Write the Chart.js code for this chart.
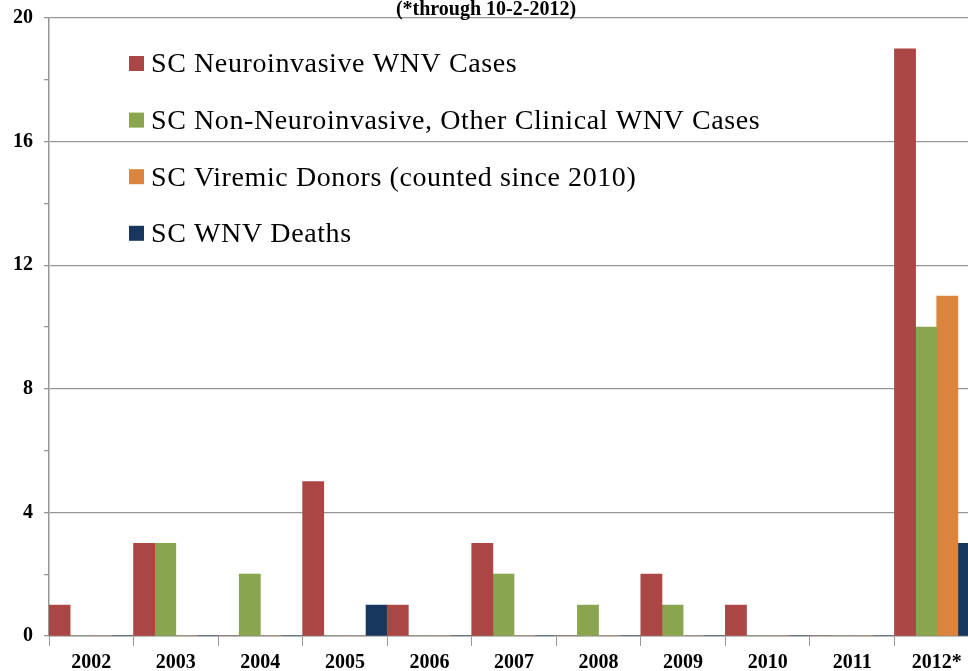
<!DOCTYPE html>
<html>
<head>
<meta charset="utf-8">
<script src="https://cdn.jsdelivr.net/npm/chart.js@4"></script>
<style>
    html, body { margin: 0; padding: 0; background: #fff; overflow: hidden; }
    #wrap { position: absolute; left: 0; top: 0; width: 990px; height: 671px; }
</style>
</head>
<body>
<div id="wrap"><canvas id="wnvChart" width="990" height="671"></canvas></div>
<script>
// values
const years = ["2002", "2003", "2004", "2005", "2006", "2007", "2008", "2009", "2010", "2011", "2012*"];
const neuroCases = [1, 3, 0, 5, 1, 3, 0, 2, 1, 0, 19];
const otherClinicalCases = [0, 3, 2, 0, 0, 2, 1, 1, 0, 0, 10];
const viremicDonors = [0, 0, 0, 0, 0, 0, 0, 0, 0, 0, 11];
const wnvDeaths = [0, 0, 0, 1, 0, 0, 0, 0, 0, 0, 3];
const seriesNames = [
    "SC Neuroinvasive WNV Cases",
    "SC Non-Neuroinvasive, Other Clinical WNV Cases",
    "SC Viremic Donors (counted since 2010)",
    "SC WNV Deaths"
];
const subTitle = "(*through 10-2-2012)";

const serif = "'Liberation Serif', 'DejaVu Serif', serif";
const gray = "#969696";

// legend sits inside the plot, drawn from the datasets
const insideLegend = {
    id: "insideLegend",
    afterDraw(chart) {
        const ctx = chart.ctx;
        ctx.save();
        ctx.font = "28px " + serif;
        ctx.letterSpacing = "0.6px";
        ctx.textBaseline = "middle";
        ctx.textAlign = "left";
        chart.data.datasets.forEach((ds, i) => {
            const y = 64 + i * 56.6;
            ctx.fillStyle = ds.backgroundColor;
            ctx.fillRect(129, y - 8, 15, 15);
            ctx.fillStyle = "#000";
            ctx.fillText(ds.label, 151, y + 1);
        });
        // title, cut off by the top edge
        ctx.letterSpacing = "0px";
        ctx.font = "bold 20px " + serif;
        ctx.textAlign = "center";
        ctx.textBaseline = "alphabetic";
        ctx.fillText(subTitle, 486, 15);
        ctx.restore();
    }
};

new Chart(document.getElementById("wnvChart"), {
    type: "bar",
    data: {
        labels: years,
        datasets: [
            { label: seriesNames[0], data: neuroCases, backgroundColor: "#AA4643" },
            { label: seriesNames[1], data: otherClinicalCases, backgroundColor: "#89A54E" },
            { label: seriesNames[2], data: viremicDonors, backgroundColor: "#DB843D" },
            { label: seriesNames[3], data: wnvDeaths, backgroundColor: "#17375E" }
        ]
    },
    options: {
        responsive: false,
        devicePixelRatio: 1,
        animation: false,
        layout: { padding: { top: 18, right: 11, left: 0, bottom: 0 } },
        datasets: {
            bar: { barPercentage: 1, categoryPercentage: 1, borderWidth: 0 }
        },
        plugins: {
            legend: { display: false },
            title: { display: false },
            tooltip: { enabled: false }
        },
        scales: {
            x: {
                offset: true,
                grid: {
                    offset: true,
                    drawOnChartArea: false,
                    tickColor: gray,
                    tickLength: 10
                },
                border: { display: true, color: gray, width: 1.5 },
                ticks: {
                    color: "#000",
                    font: { family: serif, size: 20, weight: "bold" },
                    padding: 5,
                    maxRotation: 0,
                    autoSkip: false
                },
                afterFit(scale) { scale.height = 35; }
            },
            y: {
                min: 0,
                max: 20,
                grid: {
                    color: (c) => (c.tick && c.tick.value % 4 === 0 ? gray : "rgba(0,0,0,0)"),
                    tickColor: gray,
                    tickLength: 5,
                    lineWidth: 1.3
                },
                border: { display: true, color: gray, width: 1.5 },
                ticks: {
                    stepSize: 2,
                    color: "#000",
                    font: { family: serif, size: 20, weight: "bold" },
                    padding: 11,
                    callback: (v) => (v % 4 === 0 ? v : "")
                },
                afterFit(scale) {
                    scale.width = 49;
                    scale.paddingTop = 0;
                    scale.paddingBottom = 0;
                }
            }
        }
    },
    plugins: [insideLegend]
});
</script>
</body>
</html>
